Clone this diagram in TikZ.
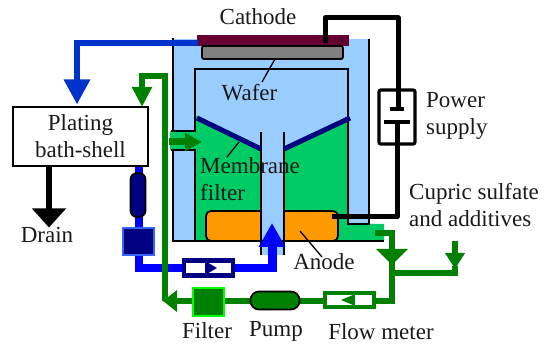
\documentclass[tikz,border=0pt]{standalone}
\usepackage{fontspec}
\setmainfont{Liberation Serif}
\usetikzlibrary{arrows.meta}
\definecolor{tankblue}{HTML}{99CCFF}
\definecolor{bathgreen}{HTML}{00CC66}
\definecolor{maroonc}{HTML}{660033}
\definecolor{navyc}{HTML}{000080}
\definecolor{dgreen}{HTML}{008000}
\definecolor{royal}{HTML}{0033CC}
\definecolor{pureblue}{HTML}{0000FF}
\definecolor{orangec}{HTML}{FF9900}
\definecolor{txt}{HTML}{1A1A1A}
\definecolor{boxblue}{HTML}{3366FF}
\tikzset{
 lbl/.style={font=\fontsize{23}{27}\selectfont,text=txt,inner sep=0pt,align=left},
 lblc/.style={lbl,align=center},
 wall/.style={draw=black,line width=1.7pt},
 leader/.style={draw=black,line width=1.3pt},
 wire/.style={draw=black,line width=5pt,line join=round},
 gpipe/.style={draw=dgreen,line width=6pt,line join=miter},
 bpipe/.style={draw=pureblue,line width=8pt,line join=miter},
 meter/.style={draw=#1,line width=4.5pt,fill=white,inner sep=0pt},
 solidbox/.style n args={2}{draw=#2,fill=#1,line width=2.5pt,inner sep=0pt},
}
\begin{document}
\begin{tikzpicture}[x=1pt,y=-1pt]
\useasboundingbox (0,0) rectangle (546,347);
% tank fills
\fill[tankblue] (173,39) rectangle (370,224);
\fill[tankblue] (173,224) rectangle (195,241);
\fill[bathgreen] (195,115) -- (261,149) -- (261,241) -- (195,241) -- cycle;
\fill[bathgreen] (284,149) -- (349,117) -- (349,224) -- (384,224) -- (384,241) -- (284,241) -- cycle;
\fill[bathgreen] (170,131) rectangle (196,150);
\fill[tankblue] (261,132) rectangle (284,255);
% anode
\draw[fill=orangec,line width=1.7pt,rounded corners=5pt] (206,241) -- (206,211) -- (338,211) -- (338,241) -- cycle;
\fill[tankblue] (261,205) rectangle (284,255);
% walls
\draw[wall] (173,38) -- (173,131) -- (171,131) -- (195,131) -- (195,69) -- (348,69) -- (348,224) -- (369,224) -- (369,39);
\draw[wall] (384,241) -- (173,241) -- (173,150) -- (171,150) -- (195,150) -- (195,241);
\draw[wall] (261,132) -- (261,255);
\draw[wall] (284,132) -- (284,255);
% membrane
\draw[draw=navyc,line width=5pt] (197,118) -- (261,149);
\draw[draw=navyc,line width=5pt] (284,149) -- (350,118);
% cathode & wafer
\node[fill=maroonc,minimum width=152pt,minimum height=11pt,inner sep=0pt] (cathode) at (273,40.5) {};
\draw[fill=gray,line width=1.7pt,rounded corners=2pt] (202,46) rectangle (343,59);
\coordinate (waferedge) at (275,59);
% leaders
\coordinate (w2) at (262,82);
\draw[leader] (waferedge) -- (w2);
\coordinate (m1) at (239,142); \coordinate (m2) at (227,157);
\draw[leader] (m1) -- (m2);
\coordinate (a1) at (300,231); \coordinate (a2) at (322,257);
\draw[leader] (a1) -- (a2);
% plating shell
\node[draw=black,line width=1.7pt,fill=white,minimum width=135pt,minimum height=59pt,inner sep=0pt] (shell) at (80.5,136.5) {};
\node[lblc] at (80.5,136.5) {Plating\\bath-shell};
% blue return to shell
\coordinate (cl) at (198,43);
\coordinate (sh1) at (77,43);
\draw[draw=royal,line width=6.5pt,-{Triangle[width=25pt,length=25pt]}] (cl) -- (sh1) -- (77,104.5);
% drain
\draw[draw=black,line width=6pt,-{Triangle[width=33pt,length=19pt]}] (49,166) -- (49,227.5);
\node[lblc] (drain) at (47,235) {Drain};
% blue circuit
\coordinate (tubeTip) at (272,223);
\draw[bpipe] (138.5,167) -- (138.5,268) -- (272,268);
\draw[draw=pureblue,line width=9pt,-{Triangle[width=25pt,length=24pt]}] (272,272) -- (272,223);
\node[solidbox={navyc}{boxblue},minimum width=31pt,minimum height=27pt] (bluepumpbox) at (138.5,241.5) {};
\node[draw=black,fill=navyc,line width=1.7pt,rounded corners=6.5pt,minimum width=15pt,minimum height=44pt,inner sep=0pt] (capsule) at (138,195) {};
% green feed
\draw[gpipe,-{Triangle[width=19pt,length=20pt]}] (165,301) -- (165,76) -- (142,76) -- (142,107);
\draw[draw=dgreen,line width=7pt,-{Triangle[width=17pt,length=17pt]}] (169,142) -- (202,142);
% blue meter
\node[meter=navyc,minimum width=49pt,minimum height=15pt] (bmeter) at (208.5,268) {};
\fill[navyc] (205,261) -- (217,268) -- (205,275) -- cycle;
% green bottom line
\draw[gpipe] (376,301) -- (392,301);
\draw[gpipe,-{Triangle[width=21pt,length=14pt]}] (323,301) -- (163,301);
\node[solidbox={dgreen}{green},minimum width=31pt,minimum height=28pt] (filter) at (208.5,302) {};
\node[draw=black,fill=dgreen,line width=1.7pt,rounded corners=8.5pt,minimum width=49pt,minimum height=18pt,inner sep=0pt] (pump) at (275,300.5) {};
\node[meter=dgreen,minimum width=49pt,minimum height=14pt] (gmeter) at (349.5,300) {};
\fill[dgreen] (341,300) -- (353,295) -- (353,305) -- cycle;
\fill[dgreen] (353,293) rectangle (355,307);
% green inlets
\draw[gpipe,-{Triangle[width=31pt,length=16pt]}] (375,233) -- (392,233) -- (392,265);
\draw[gpipe] (392,262) -- (392,304);
\draw[gpipe,-{Triangle[width=19pt,length=16pt]}] (455,241) -- (455,269);
\draw[gpipe] (392,273) -- (458,273);
\draw[draw=dgreen,line width=6pt] (455,266) -- (455,276);
% power
\node[draw=black,line width=3.2pt,rounded corners=2pt,minimum width=36pt,minimum height=54pt,inner sep=0pt] (psu) at (397,117) {};
\draw[wire] (325,43) -- (325,18) -- (398,18) -- (398,108);
\draw[draw=black,line width=3.7pt] (390,109) -- (404,109);
\draw[draw=black,line width=3.7pt] (384,122) -- (410,122);
\draw[wire] (397,122) -- (397,217) -- (332,217);
% labels
\node[lblc] at (258,17) {Cathode};
\node[lblc] at (249.5,93) {Wafer};
\node[lbl,anchor=west] at (200,179) {Membrane\\filter};
\node[lbl,anchor=west] at (426,116) {Power\\supply};
\node[lbl,anchor=west] at (409,205.5) {Cupric sulfate\\and additives};
\node[lblc] at (324,262) {Anode};
\node[lblc] at (207,331) {Filter};
\node[lblc] at (276,331) {Pump};
\node[lblc] at (381,332) {Flow meter};
\end{tikzpicture}
\end{document}
